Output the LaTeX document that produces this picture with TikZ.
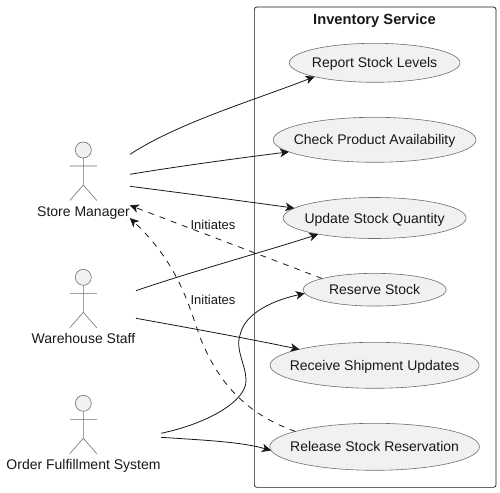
\documentclass[tikz,border=0pt]{standalone}
\usepackage{fontspec}
\setmainfont{Liberation Sans}
\usetikzlibrary{arrows.meta,shapes.geometric}
\definecolor{ink}{RGB}{24,24,24}
\definecolor{usefill}{RGB}{241,241,241}
\definecolor{figure}{RGB}{110,110,110}
\tikzset{
  >={Stealth[length=9pt,width=8.5pt,inset=2.5pt]},
  usecase/.style={ellipse,draw=figure,fill=usefill,line width=0.6pt,inner sep=0pt,outer sep=0pt,
    font=\fontsize{14}{16}\selectfont,text=ink,text height=10pt,text depth=0pt},
  frame/.style={draw=ink,rounded corners=2.5pt,line width=0.7pt,inner sep=0pt,outer sep=0pt},
  tag/.style={font=\fontsize{13}{15}\selectfont,text=ink,inner sep=0pt},
  actorname/.style={font=\fontsize{14}{16}\selectfont,text=ink,inner sep=0pt,outer sep=0pt,
    text height=11.2pt,text depth=1.5pt},
  flow/.style={->,line width=0.8pt,draw=ink},
  flow dash/.style={flow,dash pattern=on 6pt off 6pt},
  % pictograms
  pics/actor/.style={code={
    \draw[figure,fill=usefill,line width=0.6pt] (0,0) circle (8);
    \draw[figure,line width=0.6pt] (0,8) -- (0,35) (-13.5,16) -- (13.5,16)
      (-13.5,50.5) -- (0,35) -- (13.5,50.5);
  }},
}
\begin{document}
\begin{tikzpicture}[x=1pt,y=-1pt]
  \useasboundingbox (0,0) rectangle (500,492);
  \node[frame,minimum width=241.7pt,minimum height=480.3pt] (service) at (375.2,247.2) {};
  \node[font=\fontsize{14.7}{16}\selectfont\bfseries,text=ink,inner sep=0pt] (title) at (374.5,20.5) {Inventory Service};
  % use cases
  \foreach \n/\t/\y/\w/\h in {report/Report Stock Levels/62.8/170.7/39,
      check/Check Product Availability/139.8/202.7/45,
      update/Update Stock Quantity/218/183/41,
      reserve/Reserve Stock/289.7/143.3/32.7,
      receive/Receive Shipment Updates/365.3/209/46,
      release/Release Stock Reservation/446.8/209.7/47}{
    \node[usecase,minimum width=\w pt,minimum height=\h pt] (\n) at (374.6,\y) {\makebox[0pt]{\t}};
  }
  % actors
  \foreach \n/\t/\y in {store/Store Manager/150,warehouse/Warehouse Staff/277.3,order/Order Fulfillment System/403.3}{
    \pic at (83.3,\y) {actor};
    \node[actorname] (\n) at (83.5,\y+61.7) {\t};
  }
  \coordinate (store a) at (130,154.3);
  \coordinate (store b) at (130,174.3);
  \coordinate (store c) at (130,186.3);
  \coordinate (warehouse a) at (136,290.7);
  \coordinate (warehouse b) at (136,318.3);
  \coordinate (order a) at (161,433.3);
  \coordinate (order b) at (161,437.3);
  \draw[flow] (store a) .. controls (180,122) and (255,100) .. (report.193.4);
  \draw[flow] (store b) .. controls (180,166) and (240,158) .. (check.188.4);
  \draw[flow] (store c) .. controls (190,194) and (250,202) .. (update.173);
  \draw[flow] (warehouse a) .. controls (190,272) and (270,250) .. (update.196.2);
  \draw[flow] (warehouse b) .. controls (190,328) and (250,339) .. (receive.168.4);
  \draw[flow] (order a) .. controls (210,423) and (247,400) .. (246,380)
    .. controls (246,365) and (235,350) .. (240,335)
    .. controls (245,312) and (275,300) .. (reserve.183);
  \draw[flow] (order b) .. controls (200,440) and (240,441.5) .. (release.182.5);
  \draw[flow dash] (reserve.168) -- (store.north east);
  \draw[flow dash] (release.169.3) .. controls (240,412) and (215,375) .. (200,337)
    .. controls (190,310) and (180,265) .. (store.south east);
  \node[tag] (initiates a) at (213,225) {Initiates};
  \node[tag] (initiates b) at (213,300) {Initiates};
\end{tikzpicture}
\end{document}
